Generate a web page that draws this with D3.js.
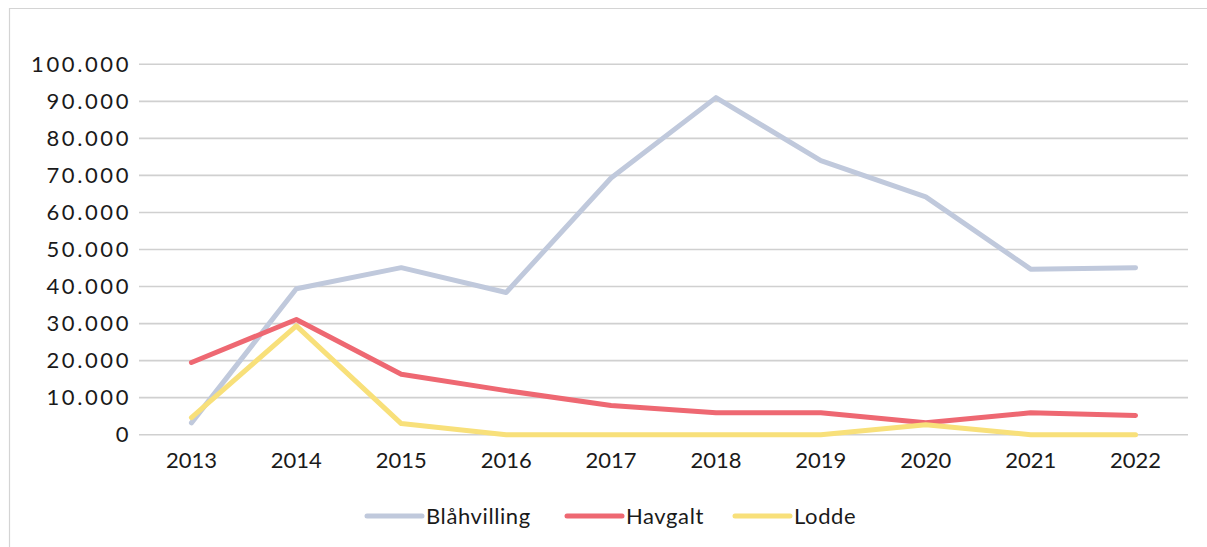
<!DOCTYPE html>
<html>
<head>
<meta charset="utf-8">
<script src="https://cdn.jsdelivr.net/npm/d3@7"></script>
<style>
  body { margin: 0; background: #fff; }
  svg { display: block; }
  text { font-family: Lato, "Noto Sans", sans-serif; fill: #1a1a1a; }
</style>
</head>
<body>
<svg id="chart" width="1207" height="547"></svg>
<script>
const years = ['2013', '2014', '2015', '2016', '2017', '2018', '2019', '2020', '2021', '2022']
const blahvilling = [3200, 39400, 45100, 38400, 69300, 91000, 74000, 64200, 44700, 45100]
const havgalt = [19500, 31100, 16300, 11900, 7900, 5900, 5900, 3200, 5900, 5200]
const lodde = [4600, 29400, 3000, 0, 0, 0, 0, 2700, 0, 0]
const yTicks = [0, 10000, 20000, 30000, 40000, 50000, 60000, 70000, 80000, 90000, 100000]

const seriesNames = ['Blåhvilling', 'Havgalt', 'Lodde']
const seriesColors = ['#c0c9dc', '#ee6872', '#f8e07a']
const series = [blahvilling, havgalt, lodde]

const svg = d3.select('#chart')

// outer frame (only top and left edges show)
svg.append('path')
    .attr('d', 'M9.5,547 V8.5 H1207')
    .attr('fill', 'none')
    .attr('stroke', '#d4d4d4')
    .attr('stroke-width', 1.2)

// x axis
const x = d3.scaleBand()
    .domain(years)
    .range([139, 1188])

// y axis
const y = d3.scaleLinear()
    .domain([0, 100000])
    .range([434.7, 64.3])

// gridlines
svg.append('g')
    .selectAll('line')
    .data(yTicks)
    .enter()
    .append('line')
        .attr('x1', 139)
        .attr('x2', 1188)
        .attr('y1', d => y(d))
        .attr('y2', d => y(d))
        .attr('stroke', '#d0d0d0')
        .attr('stroke-width', 1.6)

const fmt = d3.formatLocale({ decimal: ',', thousands: '.', grouping: [3], currency: ['', ''] }).format(',')

const yaxis = d3.axisLeft(y).tickValues(yTicks).tickFormat(fmt).tickSize(0).tickPadding(8)
svg.append('g')
    .attr('transform', 'translate(139, 0)')
    .call(yaxis)
    .call(g => g.select('.domain').remove())
    .selectAll('text')
        .attr('font-size', 22)
        .attr('fill', '#1a1a1a')
        .style('letter-spacing', '2.6px')
        .style('font-family', 'Lato, sans-serif')

const xaxis = d3.axisBottom(x).tickSize(0).tickPadding(18)
svg.append('g')
    .attr('transform', 'translate(0, 434.7)')
    .call(xaxis)
    .call(g => g.select('.domain').remove())
    .selectAll('text')
        .attr('font-size', 22)
        .attr('fill', '#1a1a1a')
        .style('font-family', 'Lato, sans-serif')

// lines
const line = d3.line()
    .x((d, i) => x(years[i]) + x.bandwidth() / 2)
    .y(d => y(d))

svg.append('g')
    .selectAll('path')
    .data(series)
    .enter()
    .append('path')
        .attr('d', d => line(d))
        .attr('fill', 'none')
        .attr('stroke', (d, i) => seriesColors[i])
        .attr('stroke-width', 5)
        .attr('stroke-linecap', 'round')
        .attr('stroke-linejoin', 'round')

// legend
const legendX = [367, 567, 735]
const legend = svg.append('g')
    .selectAll('g')
    .data(seriesNames)
    .enter()
    .append('g')
        .attr('transform', (d, i) => `translate(${legendX[i]}, 516)`)

legend.append('line')
    .attr('x1', 0)
    .attr('x2', 55)
    .attr('stroke', (d, i) => seriesColors[i])
    .attr('stroke-width', 5)
    .attr('stroke-linecap', 'round')

legend.append('text')
    .attr('x', 59)
    .attr('dy', '0.35em')
    .attr('font-size', 22)
    .style('letter-spacing', '0.6px')
    .text(d => d)
</script>
</body>
</html>
